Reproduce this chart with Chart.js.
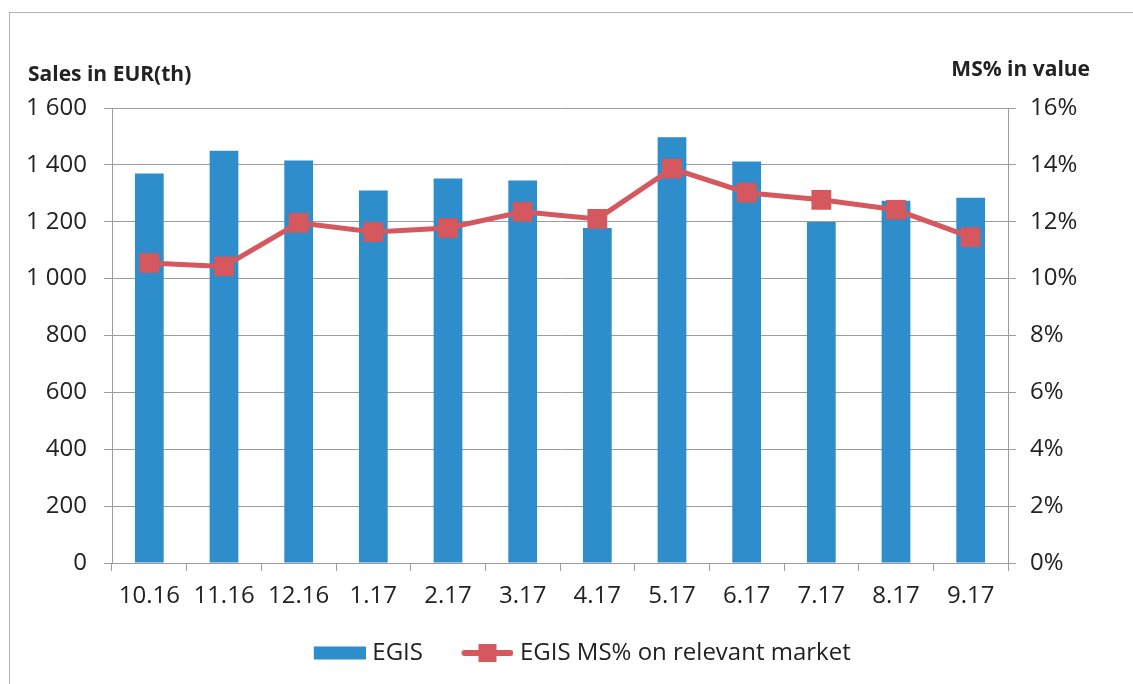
<!DOCTYPE html>
<html>
<head>
<meta charset="utf-8">
<script src="https://cdn.jsdelivr.net/npm/chart.js@4.4.1/dist/chart.umd.min.js"></script>
<style>
  html, body { margin: 0; padding: 0; background: #fff; overflow: hidden; }
  #wrap { position: relative; width: 1133px; height: 684px; }
  #frame { position: absolute; left: 9px; top: 12px; width: 1200px; height: 800px;
           border-left: 1px solid #b4b4b4; border-top: 1px solid #b4b4b4; pointer-events: none; }
  canvas { position: absolute; left: 0; top: 0; }
</style>
</head>
<body>
<div id="wrap">
  <canvas id="c" width="1133" height="684"></canvas>
  <div id="frame"></div>
</div>
<script>
const categories = ['10.16', '11.16', '12.16', '1.17', '2.17', '3.17', '4.17', '5.17', '6.17', '7.17', '8.17', '9.17'];
const salesEGIS = [1370, 1450, 1415, 1310, 1352, 1345, 1178, 1497, 1412, 1199, 1274, 1284];
const msShare = [10.55, 10.43, 11.96, 11.64, 11.78, 12.35, 12.10, 13.87, 13.02, 12.77, 12.42, 11.46];
const leftTickLabels = ['0', '200', '400', '600', '800', '1 000', '1 200', '1 400', '1 600'];
const rightTickLabels = ['0%', '2%', '4%', '6%', '8%', '10%', '12%', '14%', '16%'];
const seriesNames = ['EGIS', 'EGIS MS% on relevant market'];
const axisTitles = ['Sales in EUR(th)', 'MS% in value'];

const BLUE = '#2E8DCB';
const RED = '#D5585E';
const GRID = '#9c9c9c';
const TEXT = '#222222';
const FONT = '"Open Sans", "DejaVu Sans", sans-serif';

// legend icons: 62px wide canvases, visible content in the right-hand 52px
function makeBarIcon() {
  const c = document.createElement('canvas');
  c.width = 62; c.height = 14;
  const g = c.getContext('2d');
  g.fillStyle = BLUE; g.fillRect(10, 0.5, 52, 13);
  return c;
}
function makeLineIcon() {
  const c = document.createElement('canvas');
  c.width = 62; c.height = 20;
  const g = c.getContext('2d');
  g.strokeStyle = RED; g.lineWidth = 6; g.lineCap = 'round';
  g.beginPath(); g.moveTo(13, 10); g.lineTo(59, 10); g.stroke();
  g.fillStyle = RED; g.fillRect(27, 1, 18, 18);
  return c;
}
const barIcon = makeBarIcon();
const lineIcon = makeLineIcon();

Chart.defaults.font.family = FONT;
Chart.defaults.font.size = 24;
Chart.defaults.color = TEXT;

const titlesPlugin = {
  id: 'axisTitles',
  afterDraw(chart) {
    const ctx = chart.ctx;
    ctx.save();
    ctx.fillStyle = TEXT;
    ctx.font = 'bold 21px ' + FONT;
    ctx.textBaseline = 'alphabetic';
    ctx.textAlign = 'left';
    ctx.fillText(axisTitles[0], 28, 81);
    ctx.textAlign = 'right';
    ctx.fillText(axisTitles[1], 1090, 76);
    ctx.restore();
  }
};

new Chart(document.getElementById('c'), {
  data: {
    labels: categories,
    datasets: [
      {
        type: 'bar',
        label: seriesNames[0],
        data: salesEGIS,
        backgroundColor: BLUE,
        borderWidth: 0,
        yAxisID: 'y',
        order: 1,
        categoryPercentage: 1,
        barPercentage: 0.385
      },
      {
        type: 'line',
        label: seriesNames[1],
        data: msShare,
        borderColor: RED,
        backgroundColor: RED,
        borderWidth: 5,
        pointStyle: 'rect',
        pointRadius: 14,
        pointBackgroundColor: RED,
        pointBorderWidth: 0,
        tension: 0,
        yAxisID: 'y1',
        order: 0
      }
    ]
  },
  options: {
    responsive: false,
    animation: false,
    devicePixelRatio: 1,
    layout: { padding: { left: 25, right: -2, top: 108, bottom: 9 } },
    plugins: {
      tooltip: { enabled: false },
      title: { display: false },
      legend: {
        position: 'bottom',
        maxHeight: 70,
        labels: {
          usePointStyle: true,
          pointStyleWidth: 51,
          padding: 34,
          color: TEXT,
          font: { size: 24 },
          sort: (a, b) => a.datasetIndex - b.datasetIndex,
          generateLabels(chart) {
            const items = Chart.defaults.plugins.legend.labels.generateLabels(chart);
            items.forEach(it => {
              it.pointStyle = it.datasetIndex === 0 ? barIcon : lineIcon;
              it.fontColor = TEXT;
            });
            return items;
          }
        }
      }
    },
    scales: {
      x: {
        offset: true,
        grid: { display: true, drawOnChartArea: false, drawTicks: true, tickLength: 8, color: GRID, offset: true },
        border: { display: true, color: GRID, width: 1 },
        ticks: { padding: 11, color: TEXT, maxRotation: 0, autoSkip: false },
        afterFit(scale) { scale.height = 44; }
      },
      y: {
        position: 'left',
        min: 0, max: 1600,
        ticks: { stepSize: 200, padding: 17, color: TEXT,
                 callback: (v, i) => leftTickLabels[i] },
        grid: { color: GRID, tickLength: 8, drawTicks: true },
        border: { display: true, color: GRID, width: 1 },
        afterFit(scale) { scale.width = 112 - 25; }
      },
      y1: {
        position: 'right',
        min: 0, max: 16,
        ticks: { stepSize: 2, padding: 14, color: TEXT,
                 callback: (v, i) => rightTickLabels[i] },
        grid: { drawOnChartArea: false, color: GRID, tickLength: 8, drawTicks: true },
        border: { display: true, color: GRID, width: 1 },
        afterFit(scale) { scale.width = 1135 - 1008; }
      }
    }
  },
  plugins: [titlesPlugin]
});
</script>
</body>
</html>
